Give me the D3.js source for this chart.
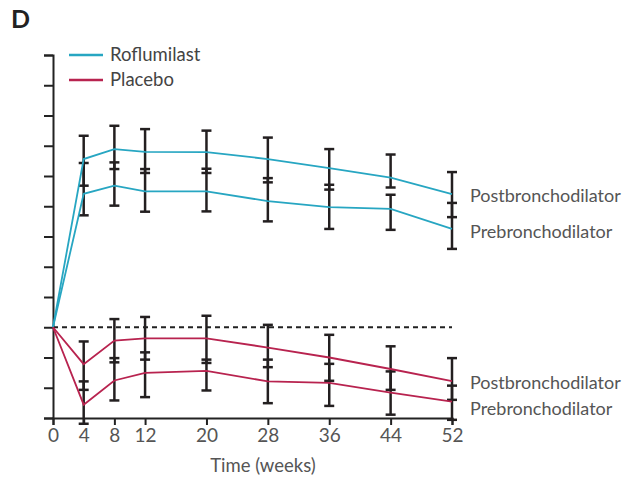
<!DOCTYPE html>
<html>
<head>
<meta charset="utf-8">
<script src="https://cdn.jsdelivr.net/npm/d3@7"></script>
<style>
  body { margin: 0; background: #fff; }
  svg text { font-family: Lato, "Open Sans", sans-serif; fill: #3a3a3a; }
</style>
</head>
<body>
<script>
// weeks and values (change in FEV1, arbitrary units, tick = 10)
var weeks = [0, 4, 8, 12, 20, 28, 36, 44, 52];

var roflPost   = [0, 55.6, 58.9, 58.0, 57.9, 55.6, 52.6, 49.5, 44.0];
var roflPostHi = [null, 63.3, 66.6, 65.5, 65.0, 62.7, 58.9, 57.1, 51.3];
var roflPostLo = [null, 46.8, 52.3, 51.0, 51.0, 47.9, 45.5, 46.2, 36.4];

var roflPre    = [0, 44.1, 46.8, 44.9, 44.9, 41.7, 39.7, 39.1, 32.5];
var roflPreHi  = [null, 54.3, 54.5, 52.3, 52.4, 49.3, 47.1, 43.8, 41.1];
var roflPreLo  = [null, 37.0, 40.2, 38.2, 38.3, 35.0, 32.5, 32.2, 25.9];

var placPost   = [0, -12.2, -4.4, -3.7, -3.7, -6.7, -10.0, -13.8, -17.8];
var placPostHi = [null, -4.7, 2.7, 3.4, 3.8, 0.8, -2.5, -6.3, -10.2];
var placPostLo = [null, -20.7, -11.6, -10.7, -11.8, -13.2, -17.7, -20.7, -24.0];

var placPre    = [0, -25.6, -17.6, -15.1, -14.4, -17.9, -18.4, -21.6, -24.6];
var placPreHi  = [null, -17.9, -10.2, -8.3, -10.7, -10.7, -12.1, -14.6, -19.3];
var placPreLo  = [null, -31.9, -24.2, -23.1, -20.9, -25.1, -26.0, -28.9, -30.6];

var yTicks = d3.range(-30, 91, 10);
var legendNames = ["Roflumilast", "Placebo"];
var endLabels = ["Postbronchodilator", "Prebronchodilator", "Postbronchodilator", "Prebronchodilator"];

var colors = { Roflumilast: "#27a6c2", Placebo: "#b8234f" };

var series = [
  { group: "Roflumilast", mean: roflPost, hi: roflPostHi, lo: roflPostLo, label: endLabels[0], dy: 2 },
  { group: "Roflumilast", mean: roflPre,  hi: roflPreHi,  lo: roflPreLo,  label: endLabels[1], dy: 3 },
  { group: "Placebo",     mean: placPost, hi: placPostHi, lo: placPostLo, label: endLabels[2], dy: 2 },
  { group: "Placebo",     mean: placPre,  hi: placPreHi,  lo: placPreLo,  label: endLabels[3], dy: 7 }
];

var width = 640, height = 481;

var x = d3.scaleLinear().domain([0, 52]).range([53, 452]);
var y = d3.scaleLinear().domain([-30, 90]).range([418, 55]);

var svg = d3.select("body").append("svg")
    .attr("width", width)
    .attr("height", height);

// panel letter
svg.append("text")
    .attr("x", 11)
    .attr("y", 28)
    .style("font-size", "25px")
    .style("font-weight", "bold")
    .style("fill", "#222")
    .text("D");

// axes
var yAxis = d3.axisLeft(y).tickValues(yTicks).tickSize(9).tickFormat("");
var xAxis = d3.axisBottom(x).tickValues(weeks).tickSize(7).tickPadding(4);

svg.append("g")
    .attr("class", "y axis")
    .attr("transform", "translate(" + x(0) + ",0)")
    .call(yAxis);

svg.append("g")
    .attr("class", "x axis")
    .attr("transform", "translate(0," + y(-30) + ")")
    .call(xAxis);

svg.selectAll(".axis path, .axis line")
    .attr("stroke", "#222")
    .attr("stroke-width", 2);
svg.selectAll(".x.axis text")
    .style("font-size", "19px")
    .style("fill", "#555");

// x axis title
svg.append("text")
    .attr("x", 263)
    .attr("y", 472)
    .style("text-anchor", "middle")
    .style("font-size", "18.5px")
    .style("fill", "#555")
    .text("Time (weeks)");

// zero line
svg.append("line")
    .attr("x1", x(0))
    .attr("x2", x(52))
    .attr("y1", y(0))
    .attr("y2", y(0))
    .attr("stroke", "#222")
    .attr("stroke-width", 2)
    .attr("stroke-dasharray", "5,4");

// error bars
var bars = [];
series.forEach(function(s) {
  weeks.forEach(function(w, i) {
    if (s.hi[i] != null) bars.push({ w: w, hi: s.hi[i], lo: s.lo[i] });
  });
});

var eb = svg.append("g").attr("class", "errorbars")
    .attr("stroke", "#231f20")
    .attr("stroke-width", 2.5);

eb.selectAll(".stem")
    .data(bars)
  .enter().append("line")
    .attr("x1", function(d) { return x(d.w); })
    .attr("x2", function(d) { return x(d.w); })
    .attr("y1", function(d) { return y(d.hi); })
    .attr("y2", function(d) { return y(d.lo); });

eb.selectAll(".capHi")
    .data(bars)
  .enter().append("line")
    .attr("x1", function(d) { return x(d.w) - 5; })
    .attr("x2", function(d) { return x(d.w) + 5; })
    .attr("y1", function(d) { return y(d.hi); })
    .attr("y2", function(d) { return y(d.hi); });

eb.selectAll(".capLo")
    .data(bars)
  .enter().append("line")
    .attr("x1", function(d) { return x(d.w) - 5; })
    .attr("x2", function(d) { return x(d.w) + 5; })
    .attr("y1", function(d) { return y(d.lo); })
    .attr("y2", function(d) { return y(d.lo); });

// mean lines
var line = d3.line()
    .x(function(d, i) { return x(weeks[i]); })
    .y(function(d) { return y(d); });

svg.selectAll(".series")
    .data(series)
  .enter().append("path")
    .attr("class", "series")
    .attr("fill", "none")
    .attr("stroke", function(d) { return colors[d.group]; })
    .attr("stroke-width", 1.8)
    .attr("d", function(d) { return line(d.mean); });

// end labels
svg.selectAll(".endlabel")
    .data(series)
  .enter().append("text")
    .attr("class", "endlabel")
    .attr("x", x(52) + 18)
    .attr("y", function(d) { return y(d.mean[d.mean.length - 1]) + d.dy; })
    .attr("dy", "0.35em")
    .style("font-size", "18px")
    .style("fill", "#555")
    .text(function(d) { return d.label; });

// legend
var legend = svg.selectAll(".legend")
    .data(legendNames)
  .enter().append("g")
    .attr("class", "legend")
    .attr("transform", function(d, i) { return "translate(69," + (55 + i * 25) + ")"; });

legend.append("line")
    .attr("x1", 0)
    .attr("x2", 34)
    .attr("stroke", function(d) { return colors[d]; })
    .attr("stroke-width", 2.5);

legend.append("text")
    .attr("x", 41)
    .attr("dy", "0.35em")
    .style("font-size", "18.5px")
    .style("fill", "#444")
    .text(function(d) { return d; });
</script>
</body>
</html>
